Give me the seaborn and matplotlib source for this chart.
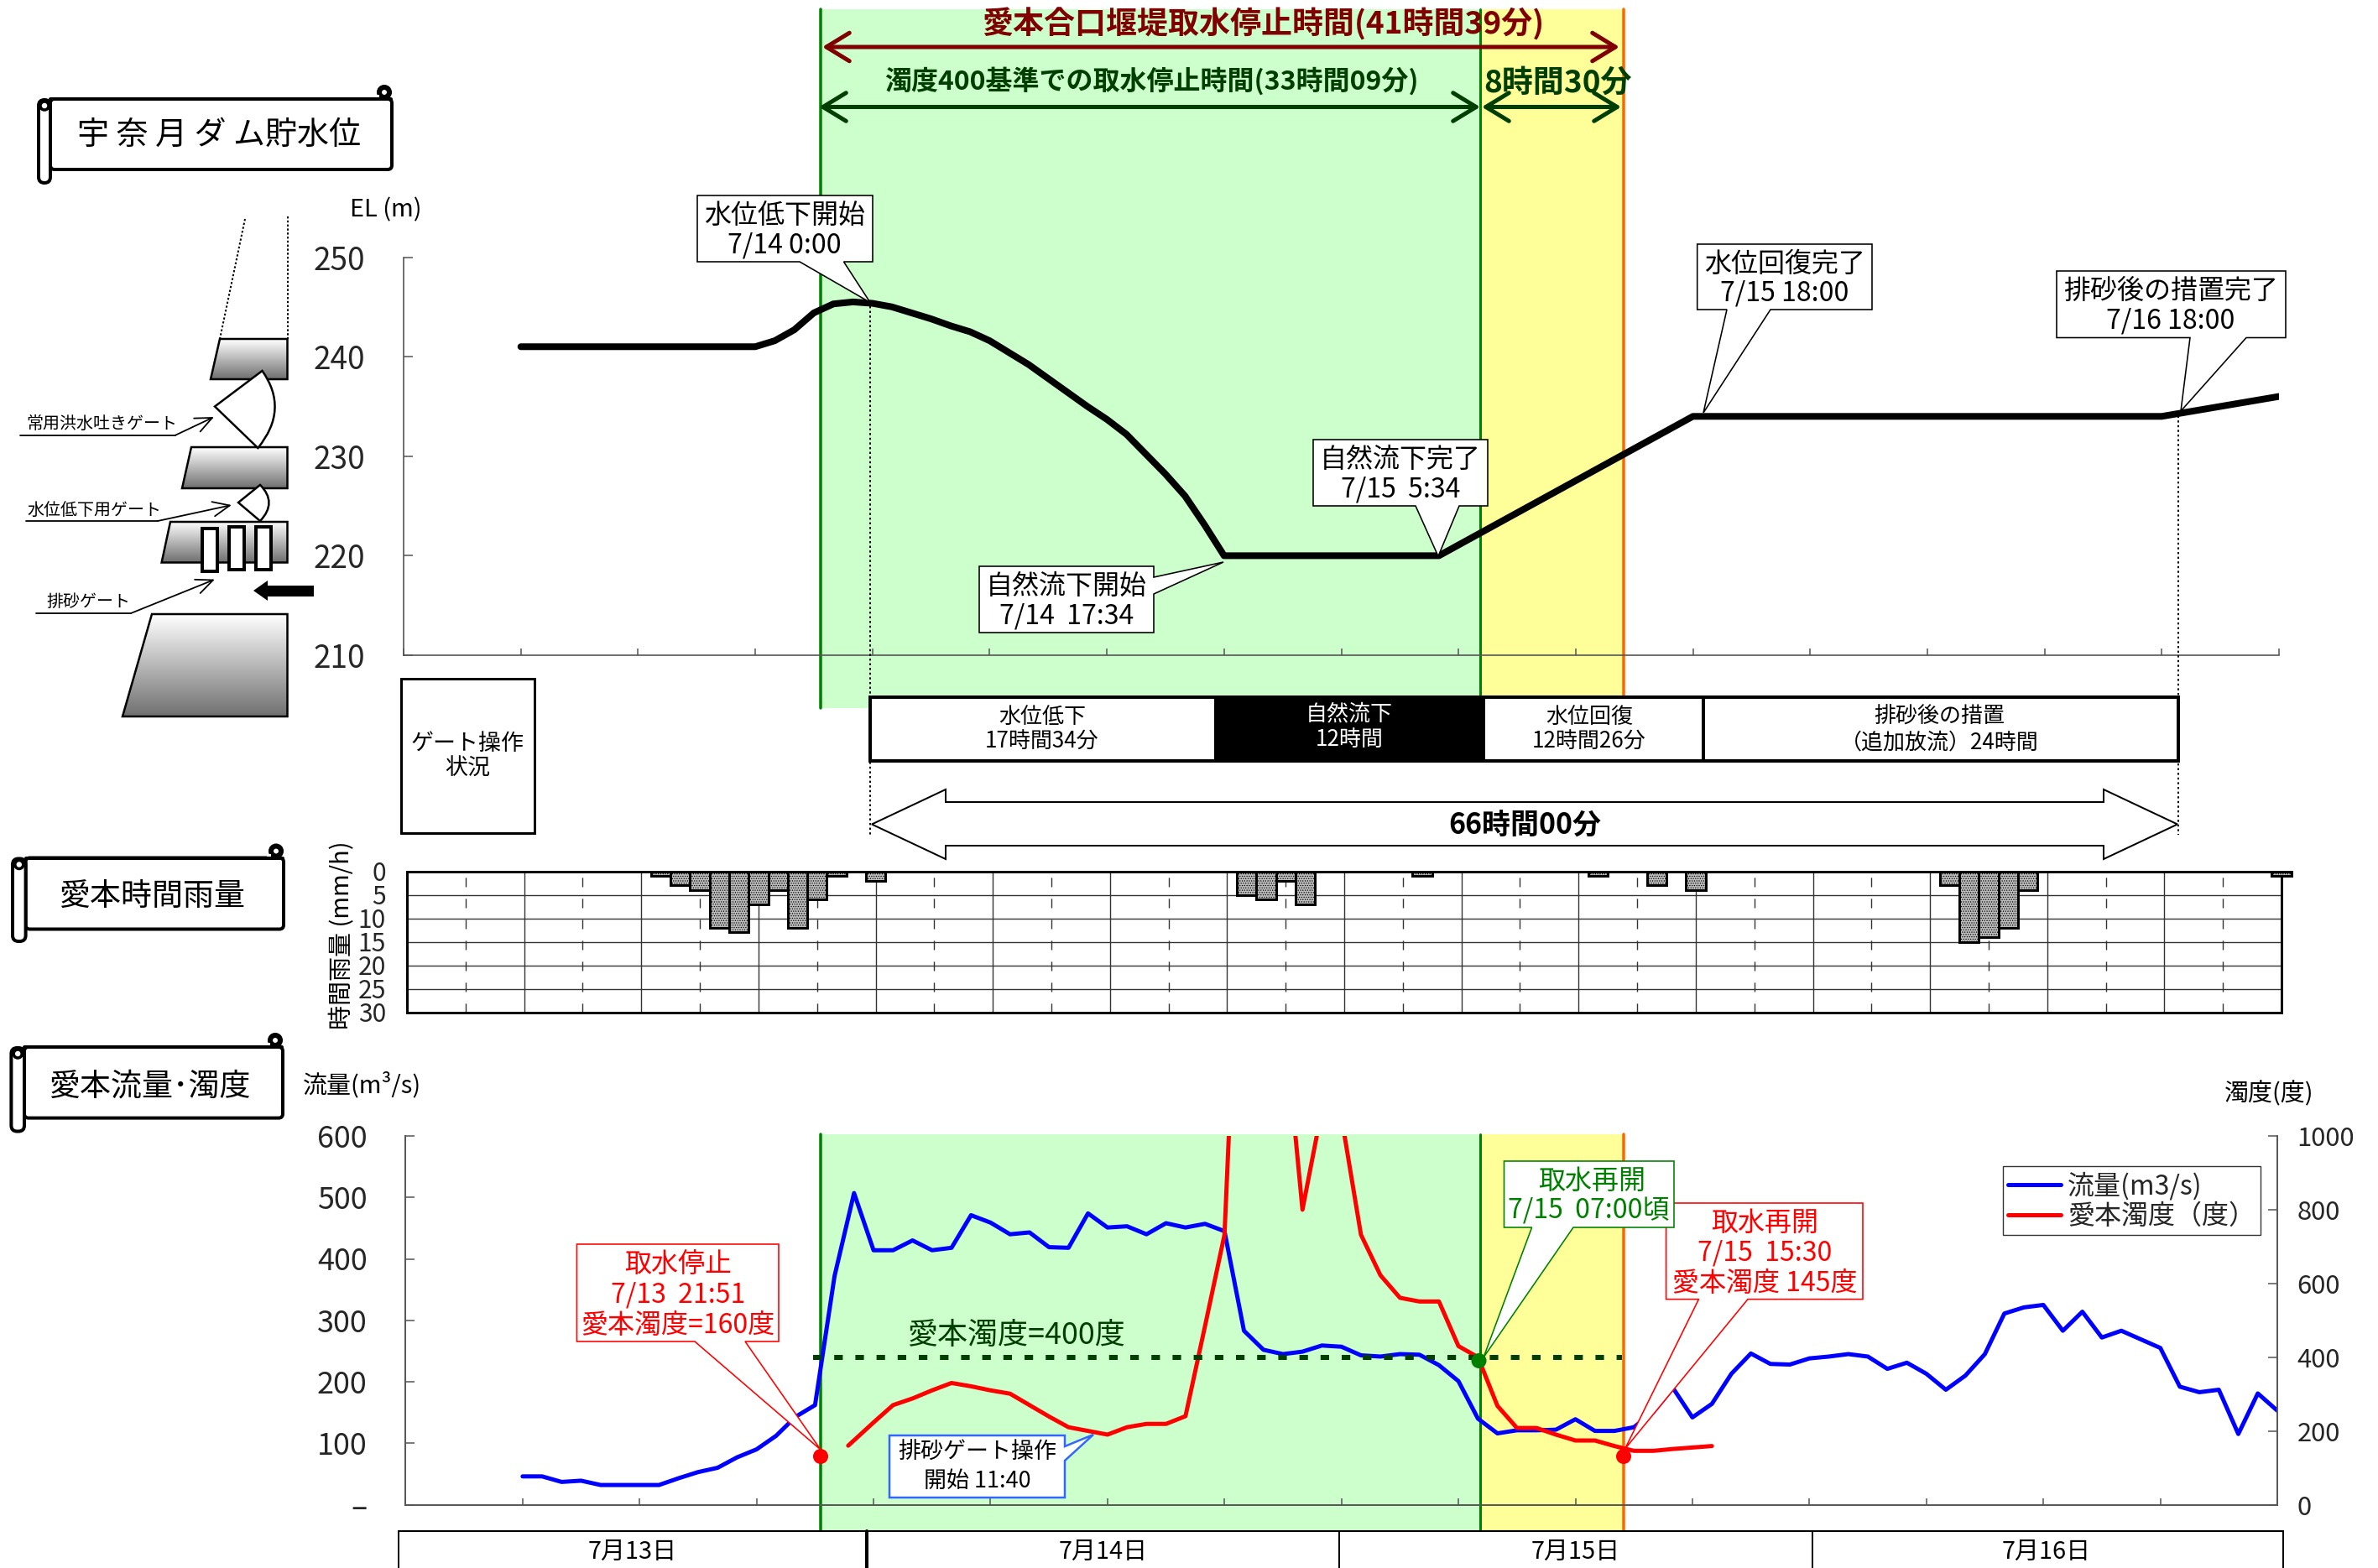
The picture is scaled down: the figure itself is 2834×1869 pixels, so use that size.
import matplotlib
matplotlib.use('Agg')
import matplotlib.pyplot as plt
import numpy as np
import seaborn as sns
from matplotlib.patches import Polygon, Rectangle, FancyBboxPatch, Circle, PathPatch
from matplotlib.path import Path
from matplotlib.colors import LinearSegmentedColormap

W, H = 2834, 1869

# hourly data, hour 0 = 7/13 0:00
level_hours = list(range(6, 19)) + list(range(19, 43)) + [53, 66, 90, 96]
level_m = [241] * 13 + [241.6, 242.7, 244.4, 245.3, 245.5, 245.36, 245.0, 244.4, 243.8, 243.1, 242.5, 241.6,
                        240.4, 239.2, 237.8, 236.4, 235.0, 233.7, 232.2, 230.2, 228.2, 226.0, 223.1, 220.0] + [220, 234, 234, 236]

rain_hours = [13, 14, 15, 16, 17, 18, 19, 20, 21, 22, 24, 43, 44, 45, 46, 52, 61, 64, 66, 79, 80, 81, 82, 83, 96]
rain_mm = [1, 3, 4, 12, 13, 7, 4, 12, 6, 1, 2, 5, 6, 2, 7, 1, 1, 3, 4, 3, 15, 14, 12, 4, 1]

flow_hours = list(range(6, 97))
flow_m3s = [46, 46, 37, 39, 32, 32, 32, 32, 43, 53, 60, 77, 90, 112, 143, 162, 372, 507,
            414, 414, 430, 414, 418, 471, 459, 440, 443, 419, 418, 474, 451, 453, 440, 458, 451, 457, 445,
            283, 252, 245, 249, 259, 257, 243, 241, 245, 244, 227, 201, 140, 116, 121, 121, 122, 139, 120, 120,
            126, 151, 190, 142, 164, 213, 246, 229, 228, 238, 241, 245, 241, 221, 231, 213, 187, 210, 245,
            311, 321, 325, 283, 314, 272, 283, 269, 255, 192, 183, 187, 115, 181, 153]

turb_hours = [22.7] + list(range(24, 68))
turb_deg = [160, 223, 270, 288, 310, 330, 321, 310, 301, 270, 239, 210, 200, 190, 210, 219, 219, 240, 484, 732,
            1940, 1500, 1355, 800, 1073, 1051, 732, 622, 561, 551, 551, 430, 400, 268, 208, 208, 190, 174, 174,
            159, 146, 146, 151, 155, 159]

thresh_hours = [20.9, 62.4]
thresh_deg = [400, 400]

level_ticks = [210, 220, 230, 240, 250]
rain_ticks = [0, 5, 10, 15, 20, 25, 30]
flow_ticks = [0, 100, 200, 300, 400, 500, 600]
flow_tick_labels = ['–', '100', '200', '300', '400', '500', '600']
turb_ticks = [0, 200, 400, 600, 800, 1000]
day_labels = ['7月13日', '7月14日', '7月15日', '7月16日']

sns.set_style('white')
plt.rcParams['font.family'] = ['Noto Sans CJK JP', 'DejaVu Sans']
plt.rcParams['axes.unicode_minus'] = False
plt.rcParams['hatch.linewidth'] = 0.6

fig = plt.figure(figsize=(W / 100, H / 100), dpi=100, facecolor='white')

DARKRED = '#800000'
DARKGREEN = '#003f00'
GREEN = '#008000'
ORANGE = '#ff6600'
AXGRAY = '#555555'


def pt(px):
    return px * 0.72


def panel(left, top, right, bottom, z):
    ax = fig.add_axes([left / W, 1 - bottom / H, (right - left) / W, (bottom - top) / H], zorder=z)
    ax.patch.set_visible(False)
    return ax


def overlay(z):
    ax = fig.add_axes([0, 0, 1, 1], zorder=z)
    ax.set_xlim(0, W)
    ax.set_ylim(H, 0)
    ax.axis('off')
    ax.set_autoscale_on(False)
    return ax


bg = overlay(0)
fg = overlay(10)


def label(x, y, s, em, color='black', ax=fg, **kw):
    ax.text(x, y + 2.5, s, fontsize=pt(em), color=color, ha=kw.pop('ha', 'center'), va='center', **kw)


# shaded periods
for top, bottom, y_end in [(11, 844, 831), (1352, 1824, 1824)]:
    bg.add_patch(Rectangle((978, top), 786, bottom - top, fc='#ccffcc', ec='none'))
    bg.add_patch(Rectangle((1764, top), 171, y_end - top, fc='#ffff99', ec='none'))
    bg.plot([978, 978], [top, bottom], color=GREEN, lw=pt(3.5))
    bg.plot([1764, 1764], [top, y_end], color=GREEN, lw=pt(3))
    bg.plot([1935, 1935], [top, y_end], color=ORANGE, lw=pt(3.5))

# reservoir level
ax_level = panel(481, 306.5, 2716, 781, 2)
sns.lineplot(x=level_hours, y=level_m, ax=ax_level, color='black', lw=pt(8), solid_capstyle='round', estimator=None)
ax_level.set_xlim(0, 96)
ax_level.set_ylim(210, 250)
ax_level.set_xticks(range(0, 97, 6))
ax_level.set_xticklabels([])
ax_level.set_yticks(level_ticks)
ax_level.set_yticklabels(level_ticks, fontsize=pt(37))
ax_level.tick_params(axis='x', direction='in', length=6, width=1.1, color=AXGRAY, bottom=True)
ax_level.tick_params(axis='y', direction='in', length=8, width=1.1, color=AXGRAY, left=True, pad=33)
ax_level.set_xlabel('')
ax_level.set_ylabel('')
sns.despine(ax=ax_level)
for s in ['left', 'bottom']:
    ax_level.spines[s].set_color(AXGRAY)
    ax_level.spines[s].set_linewidth(1.2)

# hourly rain
ax_rain = panel(485, 1038.5, 2719, 1206.5, 2)
sns.barplot(x=rain_hours, y=rain_mm, ax=ax_rain, native_scale=True, width=1, color='#bdbdbd', saturation=1,
            edgecolor='black', linewidth=pt(3), hatch='......', zorder=3)
for bar in ax_rain.patches:
    bar.set_clip_on(False)
ax_rain.set_xlim(0, 96)
ax_rain.set_ylim(30, 0)
ax_rain.set_xticks(range(0, 97, 6))
ax_rain.set_xticks(range(3, 97, 6), minor=True)
ax_rain.set_xticklabels([])
ax_rain.set_yticks(rain_ticks)
ax_rain.set_yticklabels(rain_ticks, fontsize=pt(30))
ax_rain.tick_params(axis='both', which='both', length=0)
ax_rain.tick_params(axis='y', pad=18)
ax_rain.grid(True, which='major', axis='both', color='#333333', lw=1)
ax_rain.grid(True, which='minor', axis='x', color='#333333', lw=1, ls=(0, (8, 10)))
ax_rain.set_axisbelow(True)
ax_rain.set_xlabel('')
ax_rain.set_ylabel('')
for s in ax_rain.spines.values():
    s.set_visible(True)
    s.set_color('black')
    s.set_linewidth(pt(3))

# flow and turbidity
ax_flow = panel(483.4, 1354, 2714, 1793.5, 2)
sns.lineplot(x=flow_hours, y=flow_m3s, ax=ax_flow, color='#0000ff', lw=pt(5), estimator=None, label='流量(m3/s)', legend=False)
ax_flow.set_xlim(0, 96)
ax_flow.set_ylim(0, 600)
ax_flow.set_xticks(range(0, 97, 6))
ax_flow.set_xticklabels([])
ax_flow.set_yticks(flow_ticks)
ax_flow.set_yticklabels(flow_tick_labels, fontsize=pt(36))
ax_flow.tick_params(axis='x', direction='in', length=6, width=1.1, color=AXGRAY, bottom=True)
ax_flow.tick_params(axis='y', direction='in', length=8, width=1.1, color=AXGRAY, left=True, pad=33)
ax_flow.set_xlabel('')
ax_flow.set_ylabel('')

ax_turb = ax_flow.twinx()
ax_turb.set_zorder(3)
ax_turb.patch.set_visible(False)
sns.lineplot(x=turb_hours, y=turb_deg, ax=ax_turb, color='#ff0000', lw=pt(5), estimator=None, label='愛本濁度（度）', legend=False)
sns.lineplot(x=thresh_hours, y=thresh_deg, ax=ax_turb, color=DARKGREEN, lw=pt(6), estimator=None, ls=(0, (1.7, 2.5)), legend=False, clip_on=False)
ax_turb.set_ylim(0, 1000)
ax_turb.set_yticks(turb_ticks)
ax_turb.set_yticklabels(turb_ticks, fontsize=pt(31))
ax_turb.tick_params(axis='y', direction='in', length=8, width=1.1, color=AXGRAY, right=True, pad=17)
ax_turb.set_ylabel('')
for ax in [ax_flow, ax_turb]:
    ax.spines['top'].set_visible(False)
    for s in ['left', 'right', 'bottom']:
        ax.spines[s].set_color(AXGRAY)
        ax.spines[s].set_linewidth(1.2)

handles = ax_flow.get_lines()[:1] + ax_turb.get_lines()[:1]
legend = ax_turb.legend(handles, ['流量(m3/s)', '愛本濁度（度）'], loc='upper left',
                        bbox_to_anchor=(2387 / W, 1 - 1390 / H), bbox_transform=fig.transFigure,
                        borderaxespad=0, fontsize=pt(32), fancybox=False, framealpha=1, edgecolor='#333333',
                        handlelength=1.95, handletextpad=0.25, labelspacing=0.12, borderpad=0.2)
legend.get_frame().set_linewidth(1)

# axis titles
label(460, 248, 'EL (m)', 29)
label(408, 1112, '時間雨量 (mm/h)', 29, rotation=90)
label(431, 1291, '流量(m³/s)', 29)
label(2704, 1302, '濁度(度)', 29)

# stop-time arrows and titles
label(1505, 27, '愛本合口堰堤取水停止時間(41時間39分)', 37, color=DARKRED, fontweight='bold')
label(1372, 94, '濁度400基準での取水停止時間(33時間09分)', 32, color=DARKGREEN, fontweight='bold')
label(1857, 97, '8時間30分', 37, color=DARKGREEN, fontweight='bold')
for x0, x1, y, c in [(980, 1930, 56, DARKRED), (976, 1764, 127.5, DARKGREEN), (1766, 1932, 127.5, DARKGREEN)]:
    bg.annotate('', xy=(x1, y), xytext=(x0, y), zorder=5,
                arrowprops=dict(arrowstyle='<->,head_length=0.9,head_width=0.55', color=c, lw=pt(5), shrinkA=0, shrinkB=0,
                                mutation_scale=22))


def scroll(x0, y0, x1, y1, xl, ybot, text, em, dx, dy):
    lw = pt(4)
    fg.add_patch(FancyBboxPatch((x0, y0), x1 - x0, y1 - y0, boxstyle='round,pad=0,rounding_size=5', fc='white', ec='black', lw=lw))
    fg.add_patch(Circle((x1 - 9, y0 - 8), 6, fc='white', ec='black', lw=pt(6)))
    fg.add_patch(Rectangle((x1 - 20, y0 - 5), 5, 4, fc='white', ec='none'))
    fg.plot([x0, x1 - 1], [y0, y0], color='black', lw=lw)
    fg.add_patch(FancyBboxPatch((xl, y0 + 1), x0 - xl, ybot - y0 - 1, boxstyle='round,pad=0,rounding_size=7', fc='white', ec='black', lw=lw))
    fg.add_patch(Circle(((xl + x0) / 2, y0 + 8), 5, fc='white', ec='black', lw=pt(3.5)))
    label((x0 + x1) / 2 + dx, (y0 + y1) / 2 + dy, text, em)


scroll(60, 118, 467, 202, 46, 218, '宇 奈 月 ダ ム貯水位', 38, -3, -1)
scroll(30.6, 1022.5, 338, 1107.5, 15, 1122, '愛本時間雨量', 37, -3, 1)
scroll(29, 1248, 337, 1332.6, 13.4, 1348.5, '愛本流量･濁度', 37, -5, 2)

# dam sketch
gradient = np.linspace(0, 1, 128).reshape(-1, 1)
dam_cmap = LinearSegmentedColormap.from_list('dam', ['white', '#707070'])
dam_blocks = [[(262, 404), (342.5, 404), (342.5, 452), (251, 452)],
              [(228, 533), (342.5, 533), (342.5, 582), (217, 582)],
              [(203, 622), (342.5, 622), (342.5, 670.5), (192.6, 670.5)],
              [(181, 732), (342.5, 732), (342.5, 854), (146, 854)]]
for pts in dam_blocks:
    poly = Polygon(pts, closed=True, fc='none', ec='black', lw=pt(2.5), zorder=3)
    bg.add_patch(poly)
    xs = [p[0] for p in pts]
    ys = [p[1] for p in pts]
    im = bg.imshow(gradient, cmap=dam_cmap, extent=(min(xs), max(xs), max(ys), min(ys)), aspect='auto', zorder=2)
    im.set_clip_path(poly)
for v, a, b, c in [((256, 484.5), (312.5, 442), (307.4, 534), (345, 488)), ((284, 599), (310, 578), (310, 621), (331, 599))]:
    path = Path([v, a, c, b, v], [Path.MOVETO, Path.LINETO, Path.CURVE3, Path.CURVE3, Path.CLOSEPOLY])
    bg.add_patch(PathPatch(path, fc='white', ec='black', lw=pt(2.5), zorder=4))
for x0, y0, y1 in [(241, 630, 681), (273, 627.5, 678.5), (305, 627.5, 678.5)]:
    bg.add_patch(Rectangle((x0, y0), 18, y1 - y0, fc='white', ec='black', lw=pt(4), zorder=5))
bg.plot([292, 262], [261, 404], color='black', lw=pt(2), ls=(0, (1.2, 1.2)))
bg.plot([342.5, 342.5], [258, 404], color='black', lw=pt(2), ls=(0, (1.2, 1.2)))
bg.add_patch(Polygon([(302, 704), (319, 692), (319, 698), (374, 698), (374, 711), (319, 711), (319, 716)], fc='black', ec='none'))
for text, tx, ty, line, tip, size in [('常用洪水吐きゲート', 121, 503, [(23.6, 519), (208.5, 519)], (255, 497), 20),
                                      ('水位低下用ゲート', 112, 606, [(30.6, 621), (188, 621)], (276, 602), 20),
                                      ('排砂ゲート', 105, 715, [(43, 731), (156, 731)], (256, 690.6), 20)]:
    label(tx, ty, text, size, ax=bg)
    bg.plot(*zip(*line), color='black', lw=pt(1.8))
    bg.annotate('', xy=tip, xytext=line[1], arrowprops=dict(arrowstyle='->,head_length=0.8,head_width=0.35', color='black', lw=pt(1.8),
                                                            shrinkA=0, shrinkB=0, mutation_scale=18))

# gate operation row
fg.add_patch(Rectangle((478, 809), 158.5, 183.5, fc='white', ec='black', lw=pt(3)))
label(557, 884, 'ゲート操作', 27)
label(557, 914, '状況', 27)
for x0, x1, fc, tc, cx, l1, l2 in [(1037, 1449, 'white', 'black', 1242, '水位低下', '17時間34分'),
                                   (1449, 1767.6, 'black', 'white', 1608, '自然流下', '12時間'),
                                   (1767.6, 2030, 'white', 'black', 1894, '水位回復', '12時間26分'),
                                   (2030, 2596, 'white', 'black', 2311, '排砂後の措置', '（追加放流）24時間')]:
    fg.add_patch(Rectangle((x0, 831), x1 - x0, 75.5, fc=fc, ec='black', lw=pt(4)))
    label(cx, 852 if fc == 'white' else 848, l1, 26, color=tc)
    label(cx, 882 if fc == 'white' else 879, l2, 26, color=tc)

# 66 hour arrow
fg.add_patch(Polygon([(1039, 982.5), (1127, 941), (1127, 956), (2507, 956), (2507, 941), (2595, 982.5), (2507, 1024), (2507, 1008),
                      (1127, 1008), (1127, 1024)], fc='white', ec='black', lw=pt(2)))
label(1817, 982, '66時間00分', 34, fontweight='bold')
fg.plot([1037, 1037], [365, 995], color='black', lw=pt(2), ls=(0, (1.2, 1.6)), zorder=6)
fg.plot([2596, 2596], [490, 995], color='black', lw=pt(2), ls=(0, (1.2, 1.6)), zorder=6)

# 400 degree threshold text
label(1211, 1589, '愛本濁度=400度', 36, color=DARKGREEN)


def callout(verts, lines, ec='black', tc='black', lw=1.6, em=32):
    fg.add_patch(Polygon(verts, closed=True, fc='white', ec=ec, lw=pt(lw), zorder=7))
    for x, y, s in lines:
        label(x, y, s, em, color=tc, zorder=8)


callout([(831, 233), (1040, 233), (1040, 312), (1005.5, 312), (1037, 360.5), (953, 312), (831, 312)],
        [(935, 254, '水位低下開始'), (935, 290, '7/14 0:00')])
callout([(1167, 675), (1375, 675), (1375, 688), (1458, 670), (1375, 708), (1375, 754), (1167, 754)],
        [(1271, 696, '自然流下開始'), (1271, 732, '7/14  17:34')])
callout([(1565, 524), (1773, 524), (1773, 603), (1739, 603), (1714, 663), (1687, 603), (1565, 603)],
        [(1669, 545, '自然流下完了'), (1669, 581, '7/15  5:34')])
callout([(2022.7, 291), (2231, 291), (2231, 369), (2110, 369), (2030, 492), (2058, 369), (2022.7, 369)],
        [(2127, 312, '水位回復完了'), (2127, 347, '7/15 18:00')])
callout([(2451, 323), (2724, 323), (2724, 402.5), (2677, 402.5), (2599, 490), (2610, 402.5), (2451, 402.5)],
        [(2587, 344, '排砂後の措置完了'), (2587, 380, '7/16 18:00')])
callout([(687.5, 1483), (928, 1483), (928, 1599), (888, 1599), (978, 1728), (828, 1599), (687.5, 1599)],
        [(808, 1505, '取水停止'), (808, 1541, '7/13  21:51'), (808, 1577, '愛本濁度=160度')], ec='#ff0000', tc='#ff0000')
callout([(1060, 1711), (1269, 1711), (1269, 1724), (1303, 1710), (1269, 1741), (1269, 1785), (1060, 1785)],
        [(1165, 1729, '排砂ゲート操作'), (1165, 1763, '開始 11:40')], ec='#3366ff', lw=2.5, em=27)
callout([(1985.6, 1434), (2220, 1434), (2220, 1548.6), (2083, 1548.6), (1936.6, 1727), (2024.5, 1548.6), (1985.6, 1548.6)],
        [(2103, 1455, '取水再開'), (2103, 1491, '7/15  15:30'), (2103, 1527, '愛本濁度 145度')], ec='#ff0000', tc='#ff0000')
callout([(1792.5, 1384), (1995, 1384), (1995, 1463), (1875, 1463), (1768, 1618), (1825.6, 1463), (1792.5, 1463)],
        [(1897, 1405, '取水再開'), (1893, 1441, '7/15  07:00頃')], ec=GREEN, tc=GREEN)

for x, y, c in [(978, 1736, '#ff0000'), (1935, 1736, '#ff0000'), (1762.5, 1622, GREEN)]:
    fg.add_patch(Circle((x, y), 9, fc=c, ec='none', zorder=9))

# date band
fg.plot([474.5, 2721], [1825, 1825], color='black', lw=pt(2))
for x, w in [(474.5, 2), (1033, 4), (1596, 2), (2160, 2), (2721, 2)]:
    fg.plot([x, x], [1825, H], color='black', lw=pt(w))
for x, s in zip([754, 1315, 1878, 2439], day_labels):
    label(x, 1847, s, 29)

fig.savefig('out.png', dpi=100)
